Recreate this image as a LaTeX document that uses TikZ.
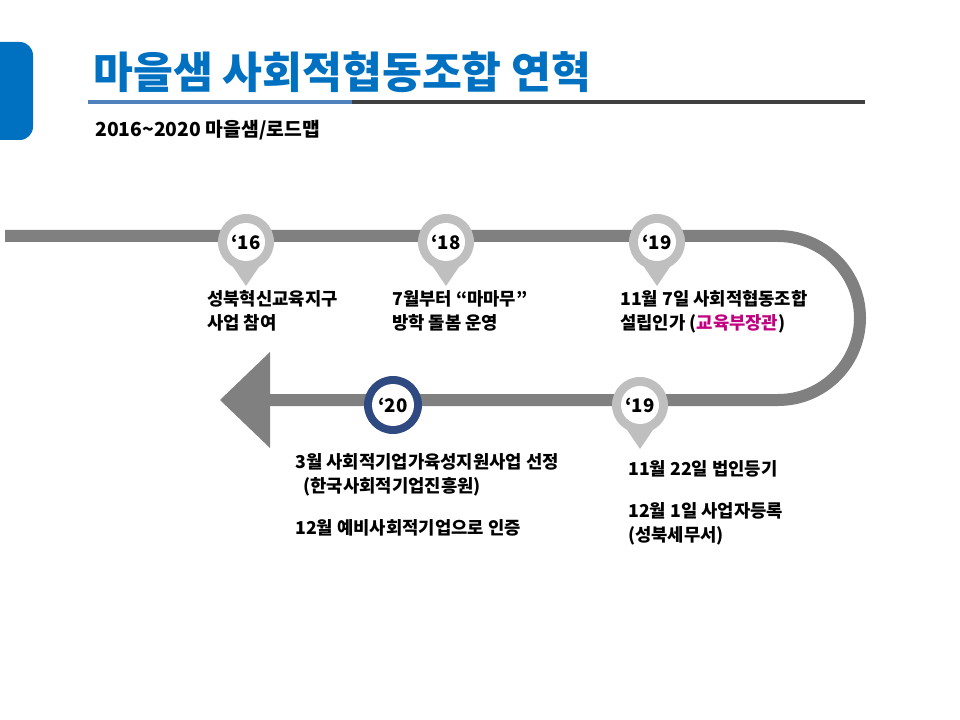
\documentclass[tikz,border=0pt]{standalone}
\usepackage{fontspec}
\setmainfont{Noto Sans CJK KR}
\definecolor{tblue}{HTML}{0070C0}
\definecolor{lblue}{HTML}{4F81BD}
\definecolor{pgray}{HTML}{BFBFBF}
\definecolor{lgray}{HTML}{808080}
\definecolor{dblue}{HTML}{2F4A80}
\definecolor{mag}{HTML}{C00080}
\tikzset{
  txt/.style={anchor=north west,align=left,font=\bfseries\fontsize{13.3}{18}\selectfont,inner sep=0pt},
  yr/.style={font=\bfseries\fontsize{14}{16}\selectfont}
}
\newcommand{\pin}[3]{%
  \fill[pgray] (#1-19,#2+16) -- (#1,#2+44) -- (#1+19,#2+16) -- cycle;
  \fill[pgray] (#1,#2) circle (28);
  \fill[white] (#1,#2) circle (19);
  \node[yr] at (#1,#2) {#3};}
\begin{document}
\begin{tikzpicture}[x=0.75pt,y=-0.75pt]
\useasboundingbox (0,0) rectangle (960,720);
\fill[tblue,rounded corners=10] (-20,42) rectangle (33,140);
\node[anchor=west,text=tblue,font=\bfseries\fontsize{32.5}{34}\selectfont,inner sep=0] (title) at (93,72) {마을샘 사회적협동조합 연혁};
\draw[line width=2.5pt,color=lgray!50!black] (352,102) -- (865,102);
\draw[line width=2.5pt,color=lblue] (88,102) -- (352,102);
\node[anchor=west,font=\bfseries\fontsize{14.5}{16}\selectfont,inner sep=0] (sub) at (95,130) {2016\textasciitilde 2020 마을샘/로드맵};
% timeline
\draw[lgray,line width=9pt] (5,236) -- (778,236) arc[start angle=90,end angle=-90,radius=61.5pt] -- (262,400);
\fill[lgray] (220,400) -- (270,352) -- (270,448) -- cycle;
\pin{246}{242}{‘16}
\pin{446}{242}{‘18}
\pin{657}{242}{‘19}
\pin{640}{405}{‘19}
\fill[dblue] (393,405) circle (29);
\fill[white] (393,405) circle (21);
\node[yr] (y20) at (393,405) {‘20};
\node[txt] (t1) at (207,290) {성북혁신교육지구\\사업 참여};
\node[txt] (t2) at (392,290) {7월부터 “마마무”\\방학 돌봄 운영};
\node[txt] (t3) at (620,290) {11월 7일 사회적협동조합\\설립인가 (\textcolor{mag}{교육부장관})};
\node[txt] (t4) at (295,453) {3월 사회적기업가육성지원사업 선정\\\ \ (한국사회적기업진흥원)\\[14pt]12월 예비사회적기업으로 인증};
\node[txt] (t5) at (628,460) {11월 22일 법인등기\\[14pt]12월 1일 사업자등록\\(성북세무서)};
\end{tikzpicture}
\end{document}
